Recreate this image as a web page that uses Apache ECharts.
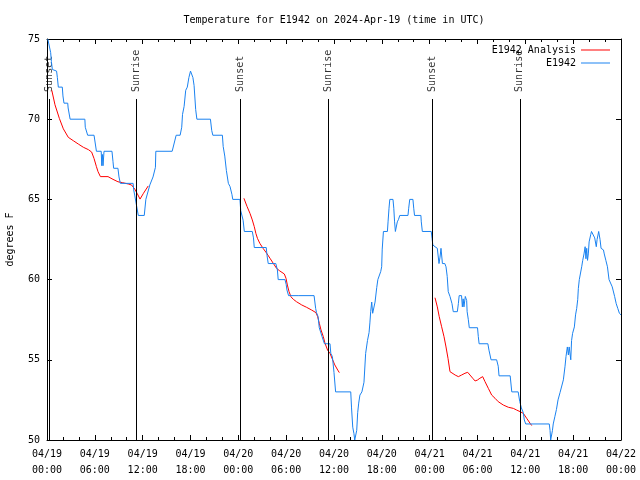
<!DOCTYPE html>
<html><head><meta charset="utf-8">
<script src="https://cdn.jsdelivr.net/npm/echarts@6/dist/echarts.min.js"></script>
<style>html,body{margin:0;padding:0;background:#fff}#c{width:640px;height:480px}</style>
</head><body><div id="c"></div>
<script>
// hours since 2024-04-19 00:00 UTC, temperature (deg F)
var e1942Obs = [[0.1,75],[0.25,75],[0.46,74.15],[0.55,73.6],[0.67,73.1],[1.2,73],[1.3,72.6],[1.42,72],[1.92,72],[2.0,71.45],[2.13,71],[2.6,71],[2.65,70.7],[2.85,70.7],[2.9,70],[4.75,70],[4.8,69.5],[5.0,69.4],[5.1,69],[5.9,69],[6.2,68],[6.8,68],[6.87,67.1],[6.95,67.8],[7.03,67.1],[7.15,68],[8.15,68],[8.28,67.35],[8.36,66.94],[8.9,66.94],[9.03,66.4],[9.2,66],[10.8,66],[10.87,65.6],[11.0,65.27],[11.2,64.7],[11.45,64],[12.2,64],[12.4,65],[12.9,65.9],[13.3,66.4],[13.6,67],[13.65,68],[15.7,68],[16.05,68.7],[16.2,69],[16.7,69],[16.9,69.5],[17.0,70.3],[17.2,70.8],[17.4,71.8],[17.6,72],[17.8,72.6],[18.0,73],[18.3,72.6],[18.45,72.1],[18.65,70.6],[18.8,70],[20.5,70],[20.66,69.3],[20.8,69],[22.0,69],[22.1,68.3],[22.3,67.7],[22.5,66.8],[22.75,66],[22.96,65.8],[23.2,65.3],[23.3,65],[24.2,65],[24.3,64.3],[24.6,63.7],[24.75,63],[25.75,63],[25.9,62.6],[26.0,62],[27.5,62],[27.6,61.5],[27.75,61],[28.7,61],[28.9,60.6],[29.0,60],[29.85,60],[30.0,59.7],[30.1,59.35],[30.3,59],[31.5,59],[31.6,59.1],[31.7,59],[33.5,59],[33.7,58.2],[33.8,57.95],[34.0,57.7],[34.15,57],[34.4,57],[34.5,56.45],[34.8,56],[35.5,56],[35.6,55.4],[35.8,55.2],[36.0,54.2],[36.2,53],[38.1,53],[38.2,52],[38.35,50.8],[38.5,50.4],[38.6,50],[38.75,50],[38.85,50.6],[38.97,51.7],[39.1,52.3],[39.25,52.8],[39.5,53],[39.7,53.1],[39.76,53.6],[39.97,55.4],[40.2,56.2],[40.4,56.7],[40.5,57.3],[40.6,58],[40.73,58.6],[40.85,57.9],[41.05,57.9],[41.15,58.6],[41.36,59.5],[41.5,60],[41.7,60.1],[41.86,60.5],[41.98,60.8],[42.05,61.9],[42.2,63],[42.7,63],[42.78,63.6],[42.9,64.45],[43.0,65],[43.4,65],[43.5,64.45],[43.6,63.6],[43.7,63],[43.9,63],[43.94,63.6],[44.1,63.76],[44.25,64],[45.28,64],[45.37,64.45],[45.5,65],[45.9,65],[46.0,64.45],[46.1,64],[46.9,64],[46.95,63.6],[47.08,63],[48.2,63],[48.3,62.57],[48.4,62.16],[48.67,62.05],[48.96,61.95],[49.17,61],[49.3,61.4],[49.42,61.95],[49.6,61],[49.9,61],[50.05,60.8],[50.2,60.2],[50.33,59.25],[50.55,58.95],[50.7,58.95],[50.8,58.5],[50.96,58],[51.47,58],[51.6,58.5],[51.7,59],[52.0,59],[52.1,58.3],[52.2,58.8],[52.3,58.3],[52.47,58.95],[52.64,58.7],[52.7,58],[52.85,57.5],[52.97,57],[54.0,57],[54.1,56.45],[54.2,56],[55.3,56],[55.44,55.6],[55.57,55.3],[55.7,55],[56.4,55],[56.6,54.6],[56.7,54],[58.1,54],[58.3,53],[59.1,53],[59.3,52.4],[59.5,52],[59.75,51.7],[59.87,51.25],[60.05,51],[63.0,51],[63.1,50.6],[63.18,50],[63.3,50],[63.4,50.6],[63.5,51],[63.7,51.45],[63.9,51.9],[64.1,52.5],[64.35,52.95],[64.55,53],[64.77,53.75],[64.98,54.6],[65.1,55.2],[65.27,55.8],[65.4,55.3],[65.5,55.8],[65.7,55],[65.8,56.2],[65.93,56.65],[66.15,57.05],[66.3,57.8],[66.44,58.2],[66.57,58.75],[66.65,59.45],[66.77,60],[66.98,60],[67.07,60.8],[67.2,61.2],[67.36,61.6],[67.5,62.05],[67.6,61.3],[67.7,61.95],[67.8,61.2],[67.9,61.6],[68.0,62.35],[68.2,62.8],[68.3,63],[68.5,63],[68.7,62.6],[68.9,62.05],[69.0,62.5],[69.2,63],[69.37,62.5],[69.5,61.95],[69.8,61.85],[69.9,61.6],[70.1,61.2],[70.3,60.8],[70.5,60],[70.7,60],[70.9,59.55],[71.0,59.35],[71.2,58.95],[71.4,58.5],[71.6,58.2],[71.8,57.9],[72,57.8]];

var analysisDay1 = [[0.6,71.8],[1.0,70.9],[1.55,70.05],[2.05,69.4],[2.67,68.87],[3.3,68.66],[3.93,68.45],[4.56,68.25],[5.2,68.1],[5.6,67.95],[5.9,67.55],[6.2,67.04],[6.4,66.73],[6.7,66.42],[7.65,66.42],[8.28,66.25],[8.9,66.1],[9.5,66.04],[10.2,65.96],[10.6,65.9],[11.0,65.65],[11.3,65.38],[11.67,65.02],[12.1,65.38],[12.7,65.84]];
var analysisDay2 = [[24.7,65.07],[25.1,64.55],[25.46,64.13],[25.75,63.72],[26.0,63.3],[26.2,62.88],[26.4,62.57],[26.7,62.26],[27.1,61.95],[27.56,61.64],[27.97,61.33],[28.4,61.0],[28.8,60.7],[29.2,60.54],[29.77,60.35],[29.98,60.08],[30.15,59.66],[30.36,59.25],[30.6,58.93],[30.9,58.77],[31.3,58.62],[31.95,58.42],[32.57,58.27],[33.2,58.1],[33.74,57.94],[33.95,57.69],[34.16,57.27],[34.37,56.86],[34.66,56.44],[34.87,56.03],[35.2,55.6],[35.5,55.4],[35.83,55.0],[36.1,54.68],[36.47,54.36],[36.67,54.2]];
var analysisDay3 = [[48.67,58.87],[48.96,58.3],[49.2,57.69],[49.5,57.06],[49.8,56.44],[50.05,55.8],[50.3,55.09],[50.55,54.26],[50.77,54.16],[51.2,54.05],[51.6,53.95],[52.0,54.05],[52.43,54.16],[52.77,54.22],[53.06,54.05],[53.4,53.85],[53.7,53.68],[54.0,53.74],[54.3,53.85],[54.65,53.95],[54.94,53.64],[55.36,53.22],[55.78,52.8],[56.2,52.6],[56.6,52.39],[57.24,52.18],[57.87,52.04],[58.5,51.97],[58.9,51.87],[59.33,51.77],[59.75,51.66],[60.17,51.35],[60.6,51.04],[60.8,50.9]];

var sunEventHours = [0.25, 11.2, 24.25, 35.3, 48.33, 59.3];
var sunEventLabels = ['Sunset', 'Sunrise', 'Sunset', 'Sunrise', 'Sunset', 'Sunrise'];
var xTickLabels = ['04/19\n00:00','04/19\n06:00','04/19\n12:00','04/19\n18:00','04/20\n00:00','04/20\n06:00','04/20\n12:00','04/20\n18:00','04/21\n00:00','04/21\n06:00','04/21\n12:00','04/21\n18:00','04/22\n00:00'];
var yTicks = [50, 55, 60, 65, 70, 75];

var FONT = 'DejaVu Sans Mono';
var analysis = analysisDay1.concat([[18, '-']], analysisDay2, [[42, '-']], analysisDay3);
var sunLineTop = 71.26, sunLabelY = 71.7;

var chart = echarts.init(document.getElementById('c'), null, {renderer: 'canvas'});
var axisCommonX = {
  type: 'value', min: 0, max: 72, interval: 6,
  axisLine: {show: true, onZero: false, lineStyle: {color: '#000', width: 1}},
  axisTick: {show: true, inside: true, length: 5, lineStyle: {color: '#000'}},
  minorTick: {show: true, splitNumber: 3, length: 3, lineStyle: {color: '#000'}},
  splitLine: {show: false}
};
var axisCommonY = {
  type: 'value', min: yTicks[0], max: yTicks[yTicks.length - 1], interval: 5,
  axisLine: {show: true, onZero: false, lineStyle: {color: '#000', width: 1}},
  axisTick: {show: true, inside: true, length: 5, lineStyle: {color: '#000'}},
  splitLine: {show: false}
};
chart.setOption({
  animation: false,
  backgroundColor: '#fff',
  textStyle: {fontFamily: FONT},
  title: {text: 'Temperature for E1942 on 2024-Apr-19 (time in UTC)', left: 334, top: 15, textAlign: 'center', padding: 0,
    textStyle: {fontFamily: FONT, fontSize: 10, fontWeight: 'normal', color: '#000'}},
  grid: {left: 47, right: 19, top: 39, bottom: 40, containLabel: false, outerBoundsMode: 'none'},
  legend: [
    {data: ['E1942 Analysis'], orient: 'vertical', right: 30, top: 45, align: 'right', icon: 'rect', padding: 0,
     itemWidth: 29, itemHeight: 1, textStyle: {fontFamily: FONT, fontSize: 10, color: '#000'}},
    {data: ['E1942'], orient: 'vertical', right: 30, top: 58, align: 'right', icon: 'rect', padding: 0,
     itemWidth: 29, itemHeight: 1, textStyle: {fontFamily: FONT, fontSize: 10, color: '#000'}}
  ],
  xAxis: [
    Object.assign({}, axisCommonX, {position: 'bottom',
      axisLabel: {show: true, fontFamily: FONT, fontSize: 10, color: '#000', lineHeight: 16, margin: 6,
        formatter: function (v) { return xTickLabels[Math.round(v / 6)]; }}}),
    Object.assign({}, axisCommonX, {position: 'top', axisLabel: {show: false}})
  ],
  yAxis: [
    Object.assign({}, axisCommonY, {position: 'left', name: 'degrees F', nameLocation: 'middle', nameGap: 32,
      nameTextStyle: {fontFamily: FONT, fontSize: 10, color: '#000'},
      axisLabel: {show: true, fontFamily: FONT, fontSize: 10, color: '#000', margin: 7}}),
    Object.assign({}, axisCommonY, {position: 'right', axisLabel: {show: false}})
  ],
  series: [
    {name: 'sun', type: 'line', data: [], silent: true,
     markLine: {silent: true, symbol: ['none', 'none'], label: {show: false},
       lineStyle: {color: '#000', width: 1, type: 'solid'},
       data: sunEventHours.map(function (h) { return [{coord: [h, 50]}, {coord: [h, sunLineTop]}]; })}},
    {name: 'sunLabels', type: 'scatter', symbolSize: 0, silent: true,
     data: sunEventHours.map(function (h, i) { return [h, sunLabelY, sunEventLabels[i]]; }),
     label: {show: true, position: [0, 0], rotate: 90, align: 'left', verticalAlign: 'middle',
       fontFamily: FONT, fontSize: 10, color: '#000',
       formatter: function (p) { return p.data[2]; }}},
    {name: 'E1942 Analysis', type: 'line', data: analysis, showSymbol: false, symbol: 'none',
     connectNulls: false, color: '#ff0000', lineStyle: {color: '#ff0000', width: 1}, z: 3},
    {name: 'E1942', type: 'line', data: e1942Obs, showSymbol: false, symbol: 'none',
     color: '#1a82f0', lineStyle: {color: '#1a82f0', width: 1}, z: 4}
  ]
});
</script></body></html>
